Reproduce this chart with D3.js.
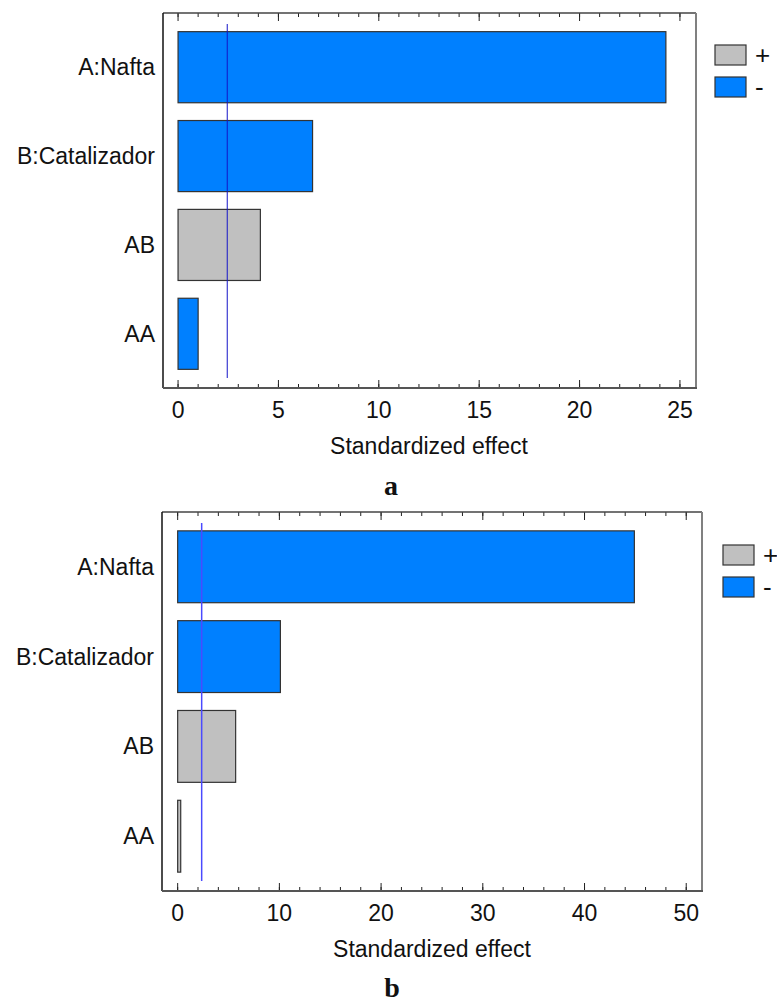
<!DOCTYPE html>
<html>
<head>
<meta charset="utf-8">
<script src="https://cdn.jsdelivr.net/npm/d3@7"></script>
<style>
  body { margin: 0; background: #fff; }
  svg text { font-family: "Liberation Sans", Arial, sans-serif; fill: #111; }
</style>
</head>
<body>
<div id="chart"></div>
<script>
// data
const terms = ["A:Nafta", "B:Catalizador", "AB", "AA"];
const effectsA = [24.3, 6.7, 4.1, 1.0];
const signsA = ["-", "-", "+", "-"];
const effectsB = [44.9, 10.1, 5.7, 0.3];
const signsB = ["-", "-", "+", "+"];
const critA = 2.45;
const critB = 2.36;
const majorTicksA = [0, 5, 10, 15, 20, 25];
const minorTicksA = d3.range(0, 26, 1);
const majorTicksB = [0, 10, 20, 30, 40, 50];
const minorTicksB = d3.range(0, 52, 2);
const legendKeys = ["+", "-"];

const W = 777, H = 1006;
const fill = {"+": "#c0c0c0", "-": "#0080ff"};

const svg = d3.select("#chart").append("svg")
  .attr("width", W).attr("height", H);

function panel(o) {
  const g = svg.append("g");
  const x = d3.scaleLinear().domain(o.domain).range([o.left, o.right]);
  const y = d3.scaleBand().domain(terms).range([o.top, o.bottom])
    .paddingInner(0.2).paddingOuter(0.21);
  const rows = terms.map((t, i) => ({term: t, v: o.values[i], s: o.signs[i]}));

  // bars
  g.selectAll("rect.bar").data(rows).enter().append("rect")
    .attr("class", "bar")
    .attr("x", x(0))
    .attr("y", d => y(d.term))
    .attr("width", d => x(d.v) - x(0))
    .attr("height", y.bandwidth())
    .attr("fill", d => fill[d.s])
    .attr("stroke", "#333")
    .attr("stroke-width", 1.2);

  // reference line
  g.append("line")
    .attr("x1", x(o.crit)).attr("x2", x(o.crit))
    .attr("y1", o.top + 11).attr("y2", o.bottom - 10)
    .attr("stroke", o.lineColor).attr("stroke-width", o.lineWidth);

  // ticks bottom and top
  const tk = (vals, len) => {
    g.selectAll(null).data(vals).enter().append("line")
      .attr("x1", d => x(d)).attr("x2", d => x(d))
      .attr("y1", o.bottom).attr("y2", o.bottom - len)
      .attr("stroke", "#222").attr("stroke-width", 1);
    g.selectAll(null).data(vals).enter().append("line")
      .attr("x1", d => x(d)).attr("x2", d => x(d))
      .attr("y1", o.top).attr("y2", o.top + len)
      .attr("stroke", "#222").attr("stroke-width", 1);
  };
  tk(o.minor, 4);
  tk(o.major, 8);

  // frame
  g.append("line").attr("x1", o.left).attr("x2", o.right).attr("y1", o.top).attr("y2", o.top)
    .attr("stroke", "#444").attr("stroke-width", 1.5);
  g.append("line").attr("x1", o.left).attr("x2", o.left).attr("y1", o.top).attr("y2", o.bottom)
    .attr("stroke", "#111").attr("stroke-width", 1.5);
  g.append("line").attr("x1", o.right).attr("x2", o.right).attr("y1", o.top).attr("y2", o.bottom)
    .attr("stroke", "#808080").attr("stroke-width", 2);
  g.append("line").attr("x1", o.left).attr("x2", o.right + 1).attr("y1", o.bottom).attr("y2", o.bottom)
    .attr("stroke", "#555").attr("stroke-width", 2);

  // tick labels
  g.selectAll(null).data(o.major).enter().append("text")
    .attr("x", d => x(d)).attr("y", o.bottom + 30)
    .attr("text-anchor", "middle").attr("font-size", 23)
    .text(d => d);

  // category labels
  g.selectAll(null).data(terms).enter().append("text")
    .attr("x", o.left - 8).attr("y", d => y(d) + y.bandwidth() / 2 + 8)
    .attr("text-anchor", "end").attr("font-size", 23)
    .text(d => d);

  g.append("text")
    .attr("x", (x(0) + x(o.major[o.major.length - 1])) / 2).attr("y", o.bottom + 66)
    .attr("text-anchor", "middle").attr("font-size", 23)
    .text("Standardized effect");

  // legend
  legendKeys.forEach((k, i) => {
    g.append("rect")
      .attr("x", o.legX).attr("y", o.legY + i * 32)
      .attr("width", 31).attr("height", 20)
      .attr("fill", fill[k]).attr("stroke", "#333").attr("stroke-width", 1.2);
    g.append("text")
      .attr("x", o.legX + 40).attr("y", o.legY + i * 32 + 19)
      .attr("font-size", 26)
      .text(k);
  });

  g.append("text")
    .attr("x", o.capX).attr("y", o.capY)
    .attr("text-anchor", "middle")
    .style("font-family", "'Liberation Serif', 'Times New Roman', serif")
    .attr("font-weight", "bold").attr("font-size", 28)
    .text(o.caption);
}

panel({
  values: effectsA, signs: signsA, crit: critA,
  domain: [-0.75, 25.8], left: 163, right: 696, top: 13, bottom: 388,
  major: majorTicksA, minor: minorTicksA,
  lineColor: "#1414c8", lineWidth: 1,
  legX: 715, legY: 45, caption: "a", capX: 391, capY: 495
});

panel({
  values: effectsB, signs: signsB, crit: critB,
  domain: [-1.54, 51.55], left: 162, right: 702, top: 512, bottom: 891,
  major: majorTicksB, minor: minorTicksB,
  lineColor: "#4a4aff", lineWidth: 1.5,
  legX: 723, legY: 545, caption: "b", capX: 392, capY: 997
});
</script>
</body>
</html>
